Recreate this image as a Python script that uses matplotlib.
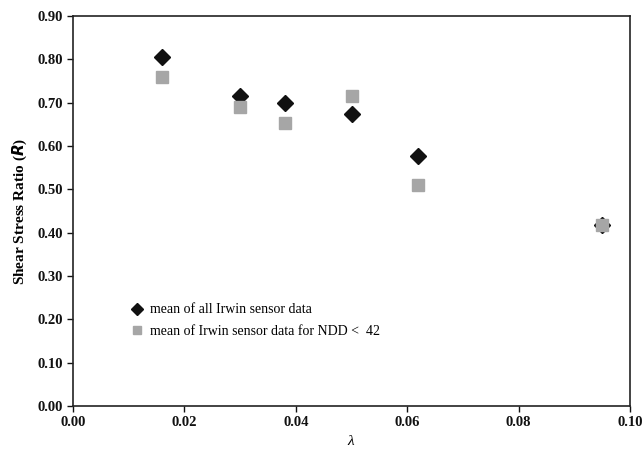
import matplotlib.pyplot as plt
from matplotlib.ticker import FormatStrFormatter

plt.rcParams['font.family'] = ['Liberation Serif', 'DejaVu Serif']
plt.rcParams['mathtext.fontset'] = 'custom'
plt.rcParams['mathtext.rm'] = 'Liberation Serif'
plt.rcParams['mathtext.it'] = 'Liberation Serif:italic'
plt.rcParams['mathtext.bf'] = 'Liberation Serif:bold'

# data
lam = [0.016, 0.030, 0.038, 0.050, 0.062, 0.095]
r_all = [0.806, 0.716, 0.700, 0.674, 0.577, 0.418]
r_ndd = [0.759, 0.689, 0.652, 0.716, 0.511, 0.418]

fig = plt.figure(figsize=(6.44, 4.58), dpi=100)
ax = fig.add_axes([0.1134, 0.1135, 0.8649, 0.8515])

ax.plot(lam, r_all, linestyle='none', marker='D', markersize=8.5,
        color='#111111', label='mean of all Irwin sensor data')
ax.plot(lam, r_ndd, linestyle='none', marker='s', markersize=8,
        color='#a6a6a6', label='mean of Irwin sensor data for NDD <  42')

ax.set_xlim(0, 0.10)
ax.set_ylim(0, 0.90)
ax.set_xticks([0, 0.02, 0.04, 0.06, 0.08, 0.10])
ax.set_yticks([i / 10 for i in range(10)])
ax.xaxis.set_major_formatter(FormatStrFormatter('%.2f'))
ax.yaxis.set_major_formatter(FormatStrFormatter('%.2f'))
ax.tick_params(direction='out', length=4, width=1, labelsize=10.5, colors='#111111')
for lab in ax.get_xticklabels() + ax.get_yticklabels():
    lab.set_fontweight('bold')
for s in ax.spines.values():
    s.set_linewidth(1.2)
    s.set_color('#222222')

ax.set_xlabel(r'$\it{\lambda}$', fontsize=11, labelpad=3)
ax.set_ylabel(r'Shear Stress Ratio ($\mathbfit{R}$)', fontsize=11, fontweight='bold', labelpad=6)

leg = ax.legend(loc='upper left', bbox_to_anchor=(0.08, 0.295), frameon=False,
                fontsize=10, handletextpad=0.4, markerscale=0.75, labelspacing=0.6,
                handlelength=1.0)

fig.savefig('out.png', dpi=100)
